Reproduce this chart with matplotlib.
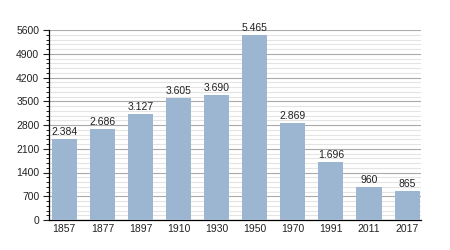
import matplotlib
matplotlib.use('Agg')
from matplotlib import pyplot as plt
from matplotlib.ticker import MultipleLocator
import numpy as np

plt.rcParams['font.family'] = ['Liberation Sans', 'DejaVu Sans']

years = ['1857', '1877', '1897', '1910', '1930', '1950', '1970', '1991', '2011', '2017']
pop = [2384, 2686, 3127, 3605, 3690, 5465, 2869, 1696, 960, 865]
labels = ['2.384', '2.686', '3.127', '3.605', '3.690', '5.465', '2.869', '1.696', '960', '865']

fig = plt.figure(figsize=(4.5, 2.5), dpi=100)
ax = fig.add_axes([0.109, 0.12, 0.827, 0.76])

x = np.arange(len(years))
ax.bar(x, pop, width=0.66, color='#9cb5d1', zorder=3)
for xi, v, t in zip(x, pop, labels):
    ax.text(xi, v + 60, t, ha='center', va='bottom', fontsize=7.5, color='#222222', zorder=4)

ax.set_ylim(0, 5600)
ax.set_xlim(-0.4, 9.37)
ax.yaxis.set_major_locator(MultipleLocator(700))
ax.yaxis.set_minor_locator(MultipleLocator(140))
ax.grid(which='minor', axis='y', color='#e4e4e4', linewidth=0.8, zorder=0)
ax.grid(which='major', axis='y', color='#aaaaaa', linewidth=0.8, zorder=1)
ax.set_xticks(x)
ax.set_xticklabels(years)
ax.tick_params(axis='both', labelsize=7.5, colors='#222222')
ax.tick_params(axis='x', length=0, pad=3)
ax.tick_params(axis='y', which='major', length=4, width=0.8, pad=3)
ax.tick_params(axis='y', which='minor', length=2, width=0.6)
for s in ['top', 'right']:
    ax.spines[s].set_visible(False)
ax.spines['left'].set_color('#000000')
ax.spines['bottom'].set_color('#000000')
ax.spines['left'].set_linewidth(0.9)
ax.spines['bottom'].set_linewidth(0.9)

fig.savefig('out.png', dpi=100)
